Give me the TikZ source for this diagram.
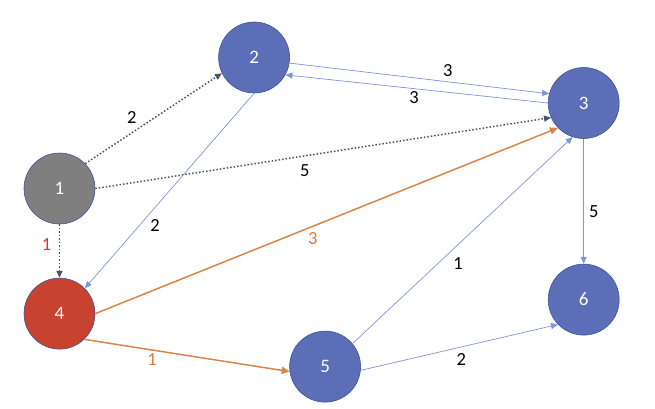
\documentclass[tikz,border=0pt]{standalone}
\usepackage{fontspec}
\setmainfont{Carlito}
\usetikzlibrary{positioning,arrows.meta}

\definecolor{nodeblue}{HTML}{5B6EB7}
\definecolor{nodeedge}{HTML}{3F5497}
\definecolor{nodegray}{HTML}{7F7F7F}
\definecolor{nodered}{HTML}{C8432F}
\definecolor{linkblue}{HTML}{7D94D8}
\definecolor{linkorange}{HTML}{D8854C}
\definecolor{linkdark}{HTML}{44546A}
\definecolor{wtred}{HTML}{D33A2C}
\definecolor{wtorange}{HTML}{D27B3E}

\tikzset{
  vertex/.style={circle, draw=nodeedge, line width=0.6pt, fill=nodeblue,
    minimum size=71pt, inner sep=0pt, text=white,
    font=\fontsize{19}{19}\selectfont},
  greyv/.style={vertex, fill=nodegray},
  redv/.style={vertex, fill=nodered},
  wt/.style={inner sep=0pt, font=\fontsize{18.5}{18.5}\selectfont},
  bluelink/.style={draw=linkblue, line width=0.7pt, -{Triangle[length=7pt,width=6pt]}},
  orangelink/.style={draw=linkorange, line width=1.5pt, -{Triangle[length=8pt,width=7pt]}},
  dotlink/.style={draw=linkdark, line width=1.5pt, dotted, -{Triangle[length=7pt,width=6pt]}}
}

\begin{document}
\begin{tikzpicture}

    \useasboundingbox (-59.5pt,-219.5pt) rectangle (595.5pt,188.5pt);

    % Define nodes
    \node[greyv]                                 (n1) {1};
    \node[redv, below=53.5pt of n1]              (n4) {4};
    \node[vertex, right=123pt of n1, yshift=131pt]   (n2) {2};
    \node[vertex, right=258pt of n2, yshift=-45.5pt] (n3) {3};
    \node[vertex, below=125pt of n3]             (n6) {6};
    \node[vertex, right=194pt of n4, yshift=-53pt]   (n5) {5};

    % Connect the nodes
    \draw[dotlink] (n1.44) -- (n2.206) node[wt, pos=.34, yshift=15pt] {2};
    \draw[dotlink] (n1.0) -- (n3.204) node[wt, pos=.46, yshift=-15pt] {5};
    \draw[dotlink] (n1) -- (n4) node[wt, text=wtred, pos=.37, xshift=-13pt] {1};

    \draw[bluelink] (n2.351) -- (n3.165) node[wt, pos=.61, yshift=11pt] {3};
    \draw[bluelink] (n3.180) -- (n2.331) node[wt, pos=.51, yshift=-9pt] {3};
    \draw[bluelink] (n2.270) -- (n4.45) node[wt, pos=.68, xshift=16pt] {2};
    \draw[bluelink] (n5.40) -- (n3.252) node[wt, pos=.48, yshift=-19pt] {1};
    \draw[bluelink] (n5.354) -- (n6.224) node[wt, pos=.51, yshift=-13pt] {2};
    \draw[bluelink] (n3) -- (n6) node[wt, pos=.58, xshift=10pt] {5};

    \draw[orangelink] (n4.0) -- (n3.224) node[wt, text=wtorange, pos=.47, yshift=-12pt] {3};
    \draw[orangelink] (n4.314) -- (n5.188) node[wt, text=wtorange, pos=.33, yshift=-10pt] {1};

  \end{tikzpicture}
\end{document}
